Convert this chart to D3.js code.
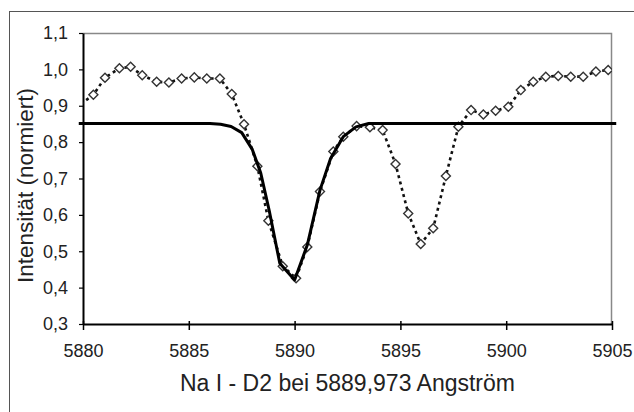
<!DOCTYPE html>
<html>
<head>
<meta charset="utf-8">
<script src="https://cdn.jsdelivr.net/npm/d3@7"></script>
<style>
  body { margin: 0; background: #fff; }
  svg { font-family: "Liberation Sans", Arial, sans-serif; }
</style>
</head>
<body>
<div id="chart"></div>
<script>
// measured spectrum (dotted line with diamonds)
var wavelength = [5879.90, 5880.49, 5881.04, 5881.72, 5882.25, 5882.80, 5883.48, 5884.06, 5884.66, 5885.26,
                  5885.85, 5886.47, 5887.03, 5887.61, 5888.24, 5888.76, 5889.44, 5890.07, 5890.60, 5891.20,
                  5891.83, 5892.30, 5892.93, 5893.56, 5894.16, 5894.77, 5895.37, 5895.96, 5896.55, 5897.15,
                  5897.74, 5898.34, 5898.92, 5899.50, 5900.10, 5900.69, 5901.28, 5901.87, 5902.46, 5903.05,
                  5903.64, 5904.24, 5904.82]
var intensity  = [0.905, 0.930, 0.977, 1.003, 1.007, 0.984, 0.966, 0.964, 0.975, 0.978,
                  0.975, 0.975, 0.932, 0.849, 0.734, 0.584, 0.459, 0.426, 0.512, 0.664,
                  0.774, 0.815, 0.844, 0.841, 0.833, 0.740, 0.604, 0.520, 0.563, 0.707,
                  0.842, 0.888, 0.876, 0.886, 0.897, 0.943, 0.966, 0.980, 0.982, 0.980,
                  0.980, 0.994, 0.998]

// fitted absorption line (solid)
var fitWavelength = [5879.8, 5886.0, 5886.5, 5887.0, 5887.5, 5888.0, 5888.4, 5888.8, 5889.3, 5890.0,
                     5890.6, 5891.2, 5891.7, 5892.3, 5892.9, 5893.5, 5905.2]
var fitIntensity  = [0.851, 0.851, 0.849, 0.843, 0.826, 0.780, 0.715, 0.612, 0.467, 0.421,
                     0.517, 0.668, 0.755, 0.815, 0.842, 0.851, 0.851]

var xTicks = [5880, 5885, 5890, 5895, 5900, 5905]
var yTicks = [0.3, 0.4, 0.5, 0.6, 0.7, 0.8, 0.9, 1.0, 1.1]

var xTitle = 'Na I - D2 bei 5889,973 Angström'
var yTitle = 'Intensität (normiert)'

var margin = {top: 33, right: 22, bottom: 88, left: 83}
var width = 634 - margin.left - margin.right
var height = 412 - margin.top - margin.bottom

var root = d3.select('#chart').append('svg')
  .attr('width', 634)
  .attr('height', 412)

// outer frame of the picture (only left and top edges fall inside the crop)
root.append('rect')
  .attr('x', 9.5).attr('y', 11.5)
  .attr('width', 700).attr('height', 500)
  .attr('fill', 'none').attr('stroke', '#555').attr('stroke-width', 1)

var svg = root.append('g')
  .attr('transform', 'translate(' + margin.left + ',' + margin.top + ')')

var x = d3.scaleLinear().domain([5880, 5905]).range([0, width])
var y = d3.scaleLinear().domain([0.3, 1.1]).range([height, 0])

svg.append('clipPath').attr('id', 'plotclip')
  .append('rect').attr('x', 0).attr('y', 0).attr('width', width).attr('height', height)

// grey top / right border of plot area
svg.append('path')
  .attr('d', 'M0,0.5H' + (width - 0.5) + 'V' + height)
  .attr('fill', 'none').attr('stroke', '#888').attr('stroke-width', 1.5)

var fmt = d3.format('.1f')

// x axis
var xAxis = svg.append('g')
  .attr('transform', 'translate(0,' + height + ')')
  .call(d3.axisBottom(x).tickValues(xTicks).tickFormat(d3.format('d')).tickSizeInner(6).tickSizeOuter(0).tickPadding(14))
xAxis.selectAll('.tick line').attr('y1', -3)
xAxis.select('.domain').attr('stroke-width', 2)
xAxis.selectAll('.tick line').attr('stroke-width', 1.5)
xAxis.selectAll('text').attr('font-size', 18).attr('fill', '#222').attr('font-family', '"Liberation Sans", Arial, sans-serif')

// y axis
var yAxis = svg.append('g')
  .call(d3.axisLeft(y).tickValues(yTicks).tickFormat(function(d) { return fmt(d).replace('.', ',') }).tickSizeInner(4).tickSizeOuter(0).tickPadding(11))
yAxis.select('.domain').attr('stroke-width', 2)
yAxis.selectAll('.tick line').attr('stroke-width', 1.2)
yAxis.selectAll('text').attr('font-size', 18).attr('fill', '#222').attr('font-family', '"Liberation Sans", Arial, sans-serif')

var plot = svg.append('g').attr('clip-path', 'url(#plotclip)')

var spectrum = wavelength.map(function(w, i) { return {w: w, v: intensity[i]} })
var fit = fitWavelength.map(function(w, i) { return {w: w, v: fitIntensity[i]} })

var line = d3.line().x(function(d) { return x(d.w) }).y(function(d) { return y(d.v) })

plot.append('path')
  .datum(spectrum)
  .attr('fill', 'none')
  .attr('stroke', '#111')
  .attr('stroke-width', 2.6)
  .attr('stroke-dasharray', '3,3.5')
  .attr('d', line)

plot.selectAll('.marker')
  .data(spectrum.filter(function(d) { return d.w >= 5880 }))
  .enter().append('path')
    .attr('class', 'marker')
    .attr('transform', function(d) { return 'translate(' + x(d.w) + ',' + y(d.v) + ')' })
    .attr('d', d3.symbol().type(d3.symbolDiamond2).size(52))
    .attr('fill', '#fff')
    .attr('stroke', '#333')
    .attr('stroke-width', 1.4)

svg.append('path')
  .datum(fit)
  .attr('fill', 'none')
  .attr('stroke', '#000')
  .attr('stroke-width', 3)
  .attr('stroke-linejoin', 'round')
  .attr('d', line)

// axis titles
svg.append('text')
  .attr('x', width / 2)
  .attr('y', height + 67)
  .attr('text-anchor', 'middle')
  .attr('font-size', 23)
  .attr('fill', '#222')
  .text(xTitle)

svg.append('text')
  .attr('transform', 'translate(' + (33 - margin.left) + ',' + (height / 2 + 7) + ') rotate(-90)')
  .attr('text-anchor', 'middle')
  .attr('font-size', 22.5)
  .attr('fill', '#222')
  .text(yTitle)
</script>
</body>
</html>
